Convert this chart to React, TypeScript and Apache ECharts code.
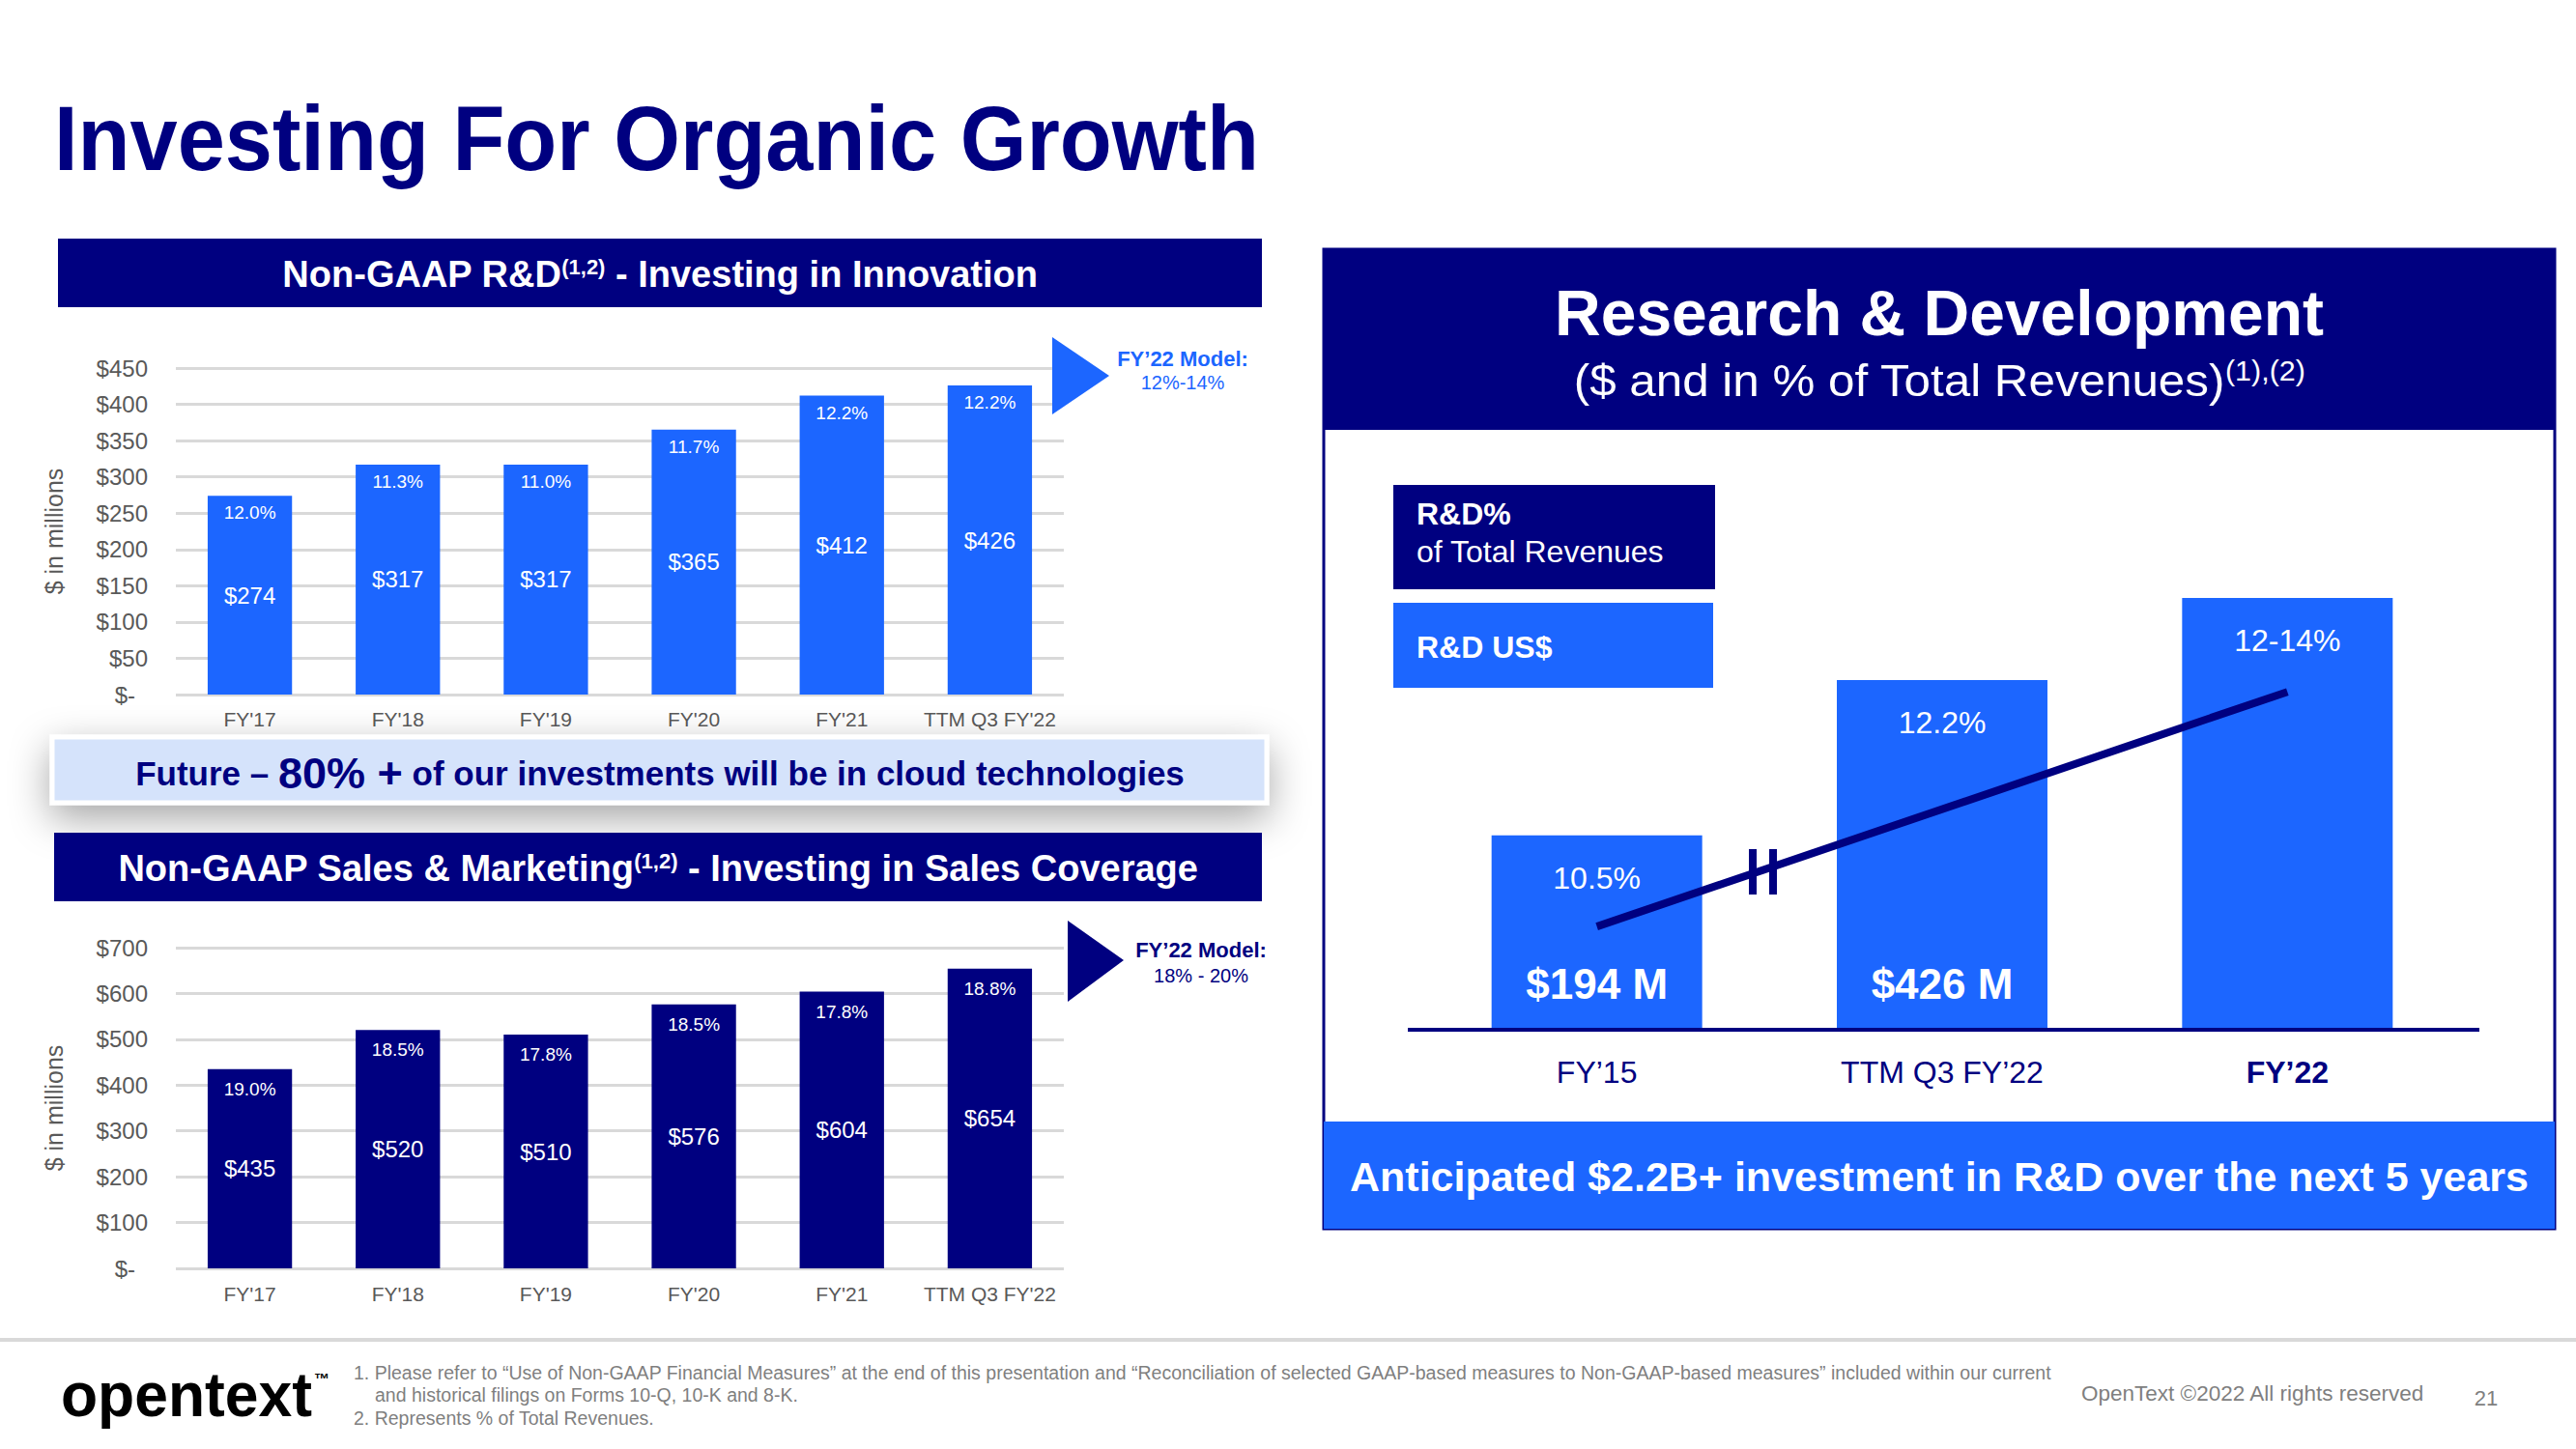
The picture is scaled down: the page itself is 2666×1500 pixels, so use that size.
import React, { useEffect, useRef } from 'react';
import * as echarts from 'echarts';

const FONT = "'Liberation Sans', Arial, Helvetica, sans-serif";
const NAVY = '#000080';
const BLUE = '#1c66ff';
const GRAY = '#595959';
const GRIDC = '#d9d9d9';
const FOOTGRAY = '#7f7f7f';

// ---------- data ----------
const rdCategories = ["FY'17", "FY'18", "FY'19", "FY'20", "FY'21", "TTM Q3 FY'22"];
const rdValues = [274, 317, 317, 365, 412, 426];
const rdPct = ['12.0%', '11.3%', '11.0%', '11.7%', '12.2%', '12.2%'];
const rdAxisMax = 450;
const rdAxisStep = 50;
const rdModel = ['FY’22 Model:', '12%-14%'];

const smCategories = ["FY'17", "FY'18", "FY'19", "FY'20", "FY'21", "TTM Q3 FY'22"];
const smValues = [435, 520, 510, 576, 604, 654];
const smPct = ['19.0%', '18.5%', '17.8%', '18.5%', '17.8%', '18.8%'];
const smAxisMax = 700;
const smAxisStep = 100;
const smModel = ['FY’22 Model:', '18% - 20%'];

const longCategories = ['FY’15', 'TTM Q3 FY’22', 'FY’22'];
const longBoldIndex = 2;
const longHeights = [45, 81, 100]; // illustrative relative heights
const longPct = ['10.5%', '12.2%', '12-14%'];
const longDollars = ['$194 M', '$426 M', ''];
const longTrend = [10.5, null, 13]; // R&D % trend (midpoint of 12-14%)

const footnotes = [
  '1. Please refer to “Use of Non-GAAP Financial Measures” at the end of this presentation and “Reconciliation of selected GAAP-based measures to Non-GAAP-based measures” included within our current',
  'and historical filings on Forms 10-Q, 10-K and 8-K.',
  '2. Represents % of Total Revenues.',
];

// ---------- helpers ----------
type TOpts = { bold?: boolean; align?: string; scaleX?: number; rich?: any; z?: number };
const txt = (x: number, y: number, text: string, size: number, color: string, o: TOpts = {}) => ({
  type: 'text',
  x,
  y,
  z: o.z ?? 20,
  scaleX: o.scaleX ?? 1,
  style: {
    text,
    fill: color,
    fontSize: size,
    fontFamily: FONT,
    fontWeight: o.bold ? 'bold' : 'normal',
    align: o.align || 'left',
    textAlign: o.align || 'left',
    verticalAlign: 'middle',
    textVerticalAlign: 'middle',
    rich: o.rich,
  },
});
const tok = (size: number, color: string, bold: boolean, extra: any = {}) => ({
  fontSize: size,
  fontFamily: FONT,
  fontWeight: bold ? 'bold' : 'normal',
  fill: color,
  color,
  ...extra,
});
const rect = (x: number, y: number, w: number, h: number, style: any, z = 1) => ({
  type: 'rect',
  z,
  shape: { x, y, width: w, height: h },
  style,
});

const yLabelFmt = (v: number) => (v === 0 ? '{z|$-}' : '$' + v);
const yLabel = {
  color: GRAY,
  fontSize: 24,
  fontFamily: FONT,
  margin: 29,
  formatter: yLabelFmt,
  rich: { z: { color: GRAY, fontSize: 24, fontFamily: FONT, padding: [0, 13, 0, 0] } },
};

const leftBarSeries = (
  idx: number,
  values: number[],
  pct: string[],
  color: string,
  pctDist: number
) => [
  {
    type: 'bar',
    xAxisIndex: idx,
    yAxisIndex: idx,
    data: values,
    barWidth: '57%',
    barGap: '-100%',
    itemStyle: { color },
    label: {
      show: true,
      position: 'inside',
      color: '#fff',
      fontSize: 24,
      fontFamily: FONT,
      formatter: (p: any) => '$' + p.value,
    },
  },
  {
    type: 'bar',
    xAxisIndex: idx,
    yAxisIndex: idx,
    data: values,
    barWidth: '57%',
    barGap: '-100%',
    itemStyle: { color: 'rgba(0,0,0,0)' },
    label: {
      show: true,
      position: 'insideTop',
      distance: pctDist,
      color: '#fff',
      fontSize: 19,
      fontFamily: FONT,
      formatter: (p: any) => pct[p.dataIndex],
    },
  },
];

const leftXAxis = (idx: number, data: string[], margin: number) => ({
  type: 'category',
  gridIndex: idx,
  data,
  axisLine: { show: false },
  axisTick: { show: false },
  axisLabel: { color: GRAY, fontSize: 21, fontFamily: FONT, margin, interval: 0 },
});

const leftYAxis = (idx: number, max: number, step: number) => ({
  type: 'value',
  gridIndex: idx,
  min: 0,
  max,
  interval: step,
  axisLine: { show: false },
  axisTick: { show: false },
  axisLabel: yLabel,
  splitLine: { lineStyle: { color: GRIDC, width: 3 } },
  name: '$ in millions',
  nameLocation: 'middle',
  nameGap: 114,
  nameRotate: 90,
  nameTextStyle: { color: GRAY, fontSize: 25, fontFamily: FONT },
});

const option: any = {
  animation: false,
  backgroundColor: '#ffffff',
  grid: [
    { left: 182, top: 381, width: 919, height: 338 },
    { left: 182, top: 981, width: 919, height: 332 },
    { left: 1474, top: 619, width: 1072, height: 447 },
  ],
  xAxis: [
    leftXAxis(0, rdCategories, 15),
    leftXAxis(1, smCategories, 16),
    {
      type: 'category',
      gridIndex: 2,
      data: longCategories.map((c, i) =>
        i === longBoldIndex ? { value: c, textStyle: { fontWeight: 'bold' } } : c
      ),
      axisLine: { show: false },
      axisTick: { show: false },
      axisLabel: { color: NAVY, fontSize: 32, fontFamily: FONT, margin: 28, interval: 0 },
    },
  ],
  yAxis: [
    leftYAxis(0, rdAxisMax, rdAxisStep),
    leftYAxis(1, smAxisMax, smAxisStep),
    { type: 'value', gridIndex: 2, min: 0, max: 100, show: false },
    { type: 'value', gridIndex: 2, min: 9.4, max: 14, show: false },
  ],
  series: [
    ...leftBarSeries(0, rdValues, rdPct, BLUE, 8),
    ...leftBarSeries(1, smValues, smPct, NAVY, 11),
    {
      type: 'bar',
      xAxisIndex: 2,
      yAxisIndex: 2,
      data: longHeights,
      barWidth: '61%',
      barGap: '-100%',
      itemStyle: { color: BLUE },
      label: {
        show: true,
        position: 'insideTop',
        distance: 28,
        color: '#fff',
        fontSize: 32,
        fontFamily: FONT,
        formatter: (p: any) => longPct[p.dataIndex],
      },
    },
    {
      type: 'bar',
      xAxisIndex: 2,
      yAxisIndex: 2,
      data: longHeights,
      barWidth: '61%',
      barGap: '-100%',
      itemStyle: { color: 'rgba(0,0,0,0)' },
      label: {
        show: true,
        position: 'insideBottom',
        distance: 26,
        color: '#fff',
        fontSize: 44,
        fontWeight: 'bold',
        fontFamily: FONT,
        formatter: (p: any) => longDollars[p.dataIndex],
      },
    },
    {
      type: 'line',
      xAxisIndex: 2,
      yAxisIndex: 3,
      data: longTrend,
      connectNulls: true,
      symbol: 'none',
      z: 5,
      lineStyle: { color: NAVY, width: 8 },
    },
  ],
  graphic: [
    // page title
    txt(56, 143, 'Investing For Organic Growth', 94, NAVY, { bold: true, scaleX: 0.94 }),
    // R&D header
    rect(60, 247, 1246, 71, { fill: NAVY }),
    txt(683, 284, '{a|Non-GAAP R&D}{s|(1,2)}{a| - Investing in Innovation}', 38, '#fff', {
      bold: true,
      align: 'center',
      rich: { a: tok(38, '#fff', true), s: tok(22, '#fff', true, { verticalAlign: 'top' }) },
    }),
    // R&D model arrow
    {
      type: 'polygon',
      z: 5,
      shape: { points: [[1089, 349], [1148, 389], [1089, 429]] },
      style: { fill: BLUE },
    },
    txt(1224, 371, rdModel[0], 22, BLUE, { bold: true, align: 'center' }),
    txt(1224, 396, rdModel[1], 20, BLUE, { align: 'center' }),
    // banner
    rect(54, 763, 1257, 68, {
      fill: '#d5e3fb',
      stroke: '#ffffff',
      lineWidth: 5,
      shadowBlur: 40,
      shadowColor: 'rgba(0,0,0,0.35)',
      shadowOffsetY: 14,
    }),
    txt(
      683,
      800,
      '{a|Future – }{b|80% +}{a| of our investments will be in cloud technologies}',
      35,
      NAVY,
      {
        bold: true,
        align: 'center',
        rich: { a: tok(35, NAVY, true), b: tok(45, NAVY, true) },
      }
    ),
    // S&M header
    rect(56, 862, 1250, 71, { fill: NAVY }),
    txt(681, 899, '{a|Non-GAAP Sales & Marketing}{s|(1,2)}{a| - Investing in Sales Coverage}', 38, '#fff', {
      bold: true,
      align: 'center',
      rich: { a: tok(38, '#fff', true), s: tok(22, '#fff', true, { verticalAlign: 'top' }) },
    }),
    // S&M model arrow
    {
      type: 'polygon',
      z: 5,
      shape: { points: [[1105, 953], [1163, 994], [1105, 1037]] },
      style: { fill: NAVY },
    },
    txt(1243, 983, smModel[0], 22, NAVY, { bold: true, align: 'center' }),
    txt(1243, 1010, smModel[1], 20, NAVY, { align: 'center' }),
    // right panel
    rect(1370, 258, 1274, 1014, { fill: '#ffffff', stroke: NAVY, lineWidth: 3 }, 0),
    rect(1370, 258, 1274, 187, { fill: NAVY }),
    txt(2007, 324, 'Research & Development', 66, '#fff', { bold: true, align: 'center' }),
    txt(2007, 393, '{a|($ and in % of Total Revenues)}{s|(1),(2)}', 47, '#fff', {
      align: 'center',
      scaleX: 1.05,
      rich: { a: tok(47, '#fff', false), s: tok(29, '#fff', false, { verticalAlign: 'top' }) },
    }),
    rect(1442, 502, 333, 108, { fill: NAVY }),
    txt(1466, 532, 'R&D%', 32, '#fff', { bold: true }),
    txt(1466, 571, 'of Total Revenues', 32, '#fff'),
    rect(1442, 624, 331, 88, { fill: BLUE }),
    txt(1466, 670, 'R&D US$', 32, '#fff', { bold: true }),
    // baseline of right chart
    {
      type: 'line',
      z: 6,
      shape: { x1: 1457, y1: 1066, x2: 2566, y2: 1066 },
      style: { stroke: NAVY, lineWidth: 4 },
    },
    // axis break marks on trend line
    rect(1810, 879, 8, 47, { fill: NAVY }, 8),
    rect(1831, 879, 8, 47, { fill: NAVY }, 8),
    rect(1370, 1161, 1274, 111, { fill: BLUE }),
    txt(2007, 1218, 'Anticipated $2.2B+ investment in R&D over the next 5 years', 43, '#fff', {
      bold: true,
      align: 'center',
    }),
    // footer
    rect(0, 1385, 2666, 4, { fill: GRIDC }),
    txt(63, 1444, 'opentext', 65, '#000', { bold: true, scaleX: 0.96 }),
    txt(325, 1427, '™', 16, '#000', { bold: true }),
    txt(366, 1421, footnotes[0], 19.5, FOOTGRAY),
    txt(388, 1444, footnotes[1], 19.5, FOOTGRAY),
    txt(366, 1468, footnotes[2], 19.5, FOOTGRAY),
    txt(2154, 1442, 'OpenText ©2022 All rights reserved', 22.5, FOOTGRAY),
    txt(2573, 1447, '21', 22, FOOTGRAY, { align: 'center' }),
  ],
};

export default function App() {
  const ref = useRef<HTMLDivElement>(null);
  useEffect(() => {
    document.body.style.margin = '0';
    document.body.style.overflow = 'hidden';
    const chart = echarts.init(ref.current as HTMLDivElement, null, {
      renderer: 'svg',
      width: 2666,
      height: 1500,
    });
    chart.setOption(option);
    return () => chart.dispose();
  }, []);
  return <div ref={ref} style={{ width: 2666, height: 1500, background: '#fff' }} />;
}
